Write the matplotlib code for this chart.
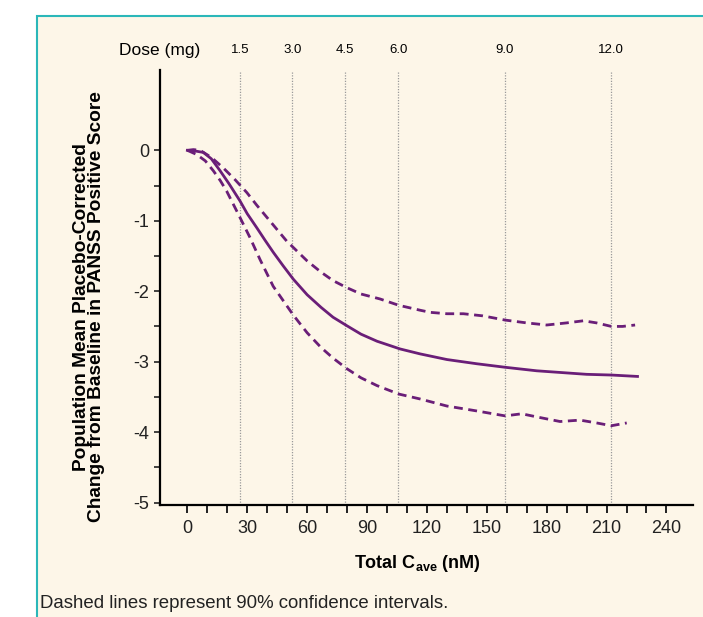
import numpy as np
import matplotlib
matplotlib.use('Agg')
from matplotlib import pyplot as plt
from matplotlib.patches import Rectangle

plt.rcParams['font.family'] = ['Liberation Sans', 'DejaVu Sans']
plt.rcParams['axes.unicode_minus'] = False

# mean curve
mean_x = [0, 4, 8, 12, 16.4, 21, 26.4, 30, 34.8, 39, 43.1, 48, 53.1, 60, 67, 73, 79.9,
          87, 95, 106.6, 116.6, 130, 145, 159.2, 175, 190, 200, 212.4, 225.5]
mean_y = [0, -0.01, -0.03, -0.12, -0.29, -0.48, -0.72, -0.90, -1.10, -1.28, -1.45, -1.64,
          -1.83, -2.05, -2.23, -2.37, -2.49, -2.61, -2.71, -2.82, -2.89, -2.97, -3.03,
          -3.08, -3.13, -3.16, -3.18, -3.19, -3.21]

# upper 90% CI
upper_x = [0, 3, 6.4, 12, 18, 24, 29.8, 34.8, 39.8, 44.8, 49.8, 53.1, 60, 67, 73, 79.9, 87,
           96.5, 105.9, 116.6, 121.6, 130, 138.3, 148, 159.2, 170, 180, 190, 198.4, 205,
           212.4, 218, 224.3]
upper_y = [0, 0.01, 0, -0.10, -0.25, -0.42, -0.60, -0.78, -0.95, -1.12, -1.29, -1.38, -1.57,
           -1.73, -1.85, -1.95, -2.04, -2.11, -2.20, -2.27, -2.30, -2.32, -2.32, -2.35,
           -2.41, -2.45, -2.48, -2.45, -2.42, -2.45, -2.50, -2.50, -2.48]

# lower 90% CI
lower_x = [0, 4.7, 9, 13, 16.5, 19.7, 25.6, 31.4, 36.4, 43, 53.1, 60, 67, 73, 79.9, 87, 95,
           105.9, 116.6, 130, 145, 159.2, 167.5, 176, 186.7, 196.7, 205, 212.4, 220.1]
lower_y = [0, -0.06, -0.15, -0.29, -0.43, -0.58, -0.91, -1.24, -1.55, -1.93, -2.34, -2.59,
           -2.80, -2.95, -3.10, -3.23, -3.34, -3.46, -3.53, -3.63, -3.70, -3.77, -3.74,
           -3.79, -3.85, -3.83, -3.87, -3.91, -3.87]

# dose reference lines (concentration for each dose)
dose_labels = ['1.5', '3.0', '4.5', '6.0', '9.0', '12.0']
dose_conc = [26.3, 52.6, 79.1, 105.7, 159.0, 212.3]

purple = '#6a1e78'
W, H = 703, 617

fig = plt.figure(figsize=(W / 100, H / 100), dpi=100)
panel = Rectangle((37 / W, -0.1), 1.0, 1.1 - 16 / H, transform=fig.transFigure,
                  facecolor='#fdf6e8', edgecolor='#2bb7b9', lw=1.5, zorder=-5)
fig.patches.append(panel)

ax = fig.add_axes([160 / W, 1 - 505 / H, (693 - 160) / W, (505 - 70) / H])
ax.set_facecolor('none')
ax.set_zorder(2)

for c in dose_conc:
    ax.axvline(c, ymax=0.995, color='#9a9a9a', lw=0.9, ls=(0, (1, 1.2)), zorder=1)

ax.plot(mean_x, mean_y, color=purple, lw=2.0, zorder=3)
ax.plot(upper_x, upper_y, color=purple, lw=2.0, ls=(0, (3.2, 2.0)), zorder=3)
ax.plot(lower_x, lower_y, color=purple, lw=2.0, ls=(0, (3.2, 2.0)), zorder=3)

ax.set_xlim(-13.7, 253.3)
ax.set_ylim(-5.035, 1.14)

ax.set_xticks(np.arange(0, 241, 30))
ax.set_xticks(np.arange(0, 241, 10), minor=True)
ax.set_yticks(np.arange(-5, 1, 1))
ax.set_yticks(np.arange(-5, 0.1, 0.5), minor=True)

for s in ['top', 'right']:
    ax.spines[s].set_visible(False)
for s in ['left', 'bottom']:
    ax.spines[s].set_linewidth(1.6)

ax.tick_params(axis='x', which='both', direction='out', length=6, width=1.4,
               labelsize=13, pad=5, colors='#222222')
ax.tick_params(axis='y', which='both', direction='out', length=4.5, width=1.2,
               labelsize=13, pad=3, colors='#222222')

fig.text(417 / W, 1 - 563 / H, r'Total C$_{\mathregular{ave}}$ (nM)', ha='center', va='center',
         fontsize=13, fontweight='bold')
fig.text(89 / W, 1 - 307 / H,
         'Population Mean Placebo-Corrected\nChange from Baseline in PANSS Positive Score',
         rotation=90, ha='center', va='center', fontsize=13.8, fontweight='bold',
         linespacing=0.9)

# dose axis along the top
fig.text(160 / W, 1 - 50 / H, 'Dose (mg)', ha='center', va='center', fontsize=12.5)
for lab, c in zip(dose_labels, dose_conc):
    xf = ax.transData.transform((c, 0))[0] / W
    fig.text(xf, 1 - 50 / H, lab, ha='center', va='center', fontsize=9.5)

fig.text(40 / W, 1 - 604 / H, 'Dashed lines represent 90% confidence intervals.',
         ha='left', va='center', fontsize=13.4, color='#222222')

fig.savefig('out.png', dpi=100)
plt.close(fig)
